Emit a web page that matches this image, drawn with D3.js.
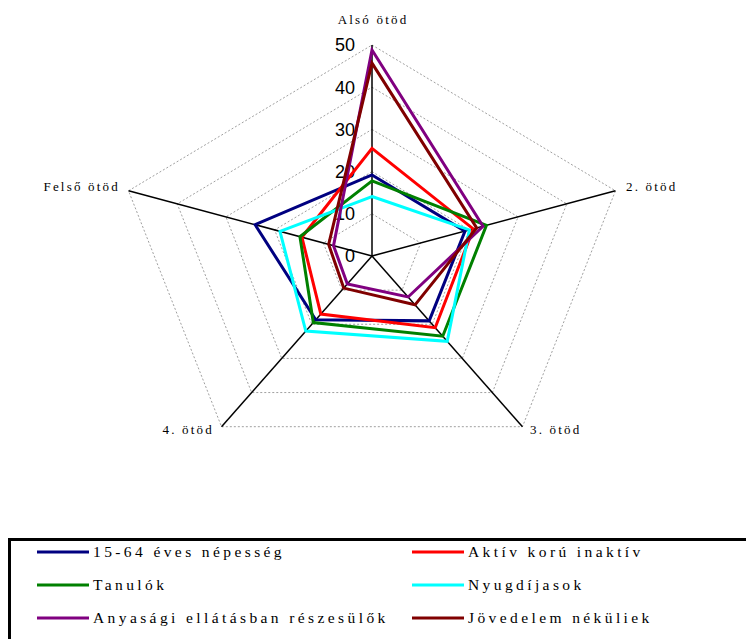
<!DOCTYPE html>
<html>
<head>
<meta charset="utf-8">
<script src="https://cdn.jsdelivr.net/npm/d3@7"></script>
<style>
  body { margin: 0; background: #fff; }
  svg { display: block; }
  .serif { font-family: 'Liberation Serif', 'DejaVu Serif', serif; }
</style>
</head>
<body>
<svg id="radar" width="746" height="639"></svg>
<script>
// axes of the radar (income quintiles)
var axisNames = ['Alsó ötöd', '2. ötöd', '3. ötöd', '4. ötöd', 'Felső ötöd'];
var tickValues = [0, 10, 20, 30, 40, 50];

// series, values per quintile in %
var seriesNames = ['15-64 éves népesség', 'Aktív korú inaktív', 'Tanulók',
                   'Nyugdíjasok', 'Anyasági ellátásban részesülők', 'Jövedelem néküliek'];
var seriesColors = ['#000080', '#ff0000', '#008000', '#00ffff', '#800080', '#800000'];
var nepesseg   = [19.2, 19.1, 19.0, 18.7, 24.0];
var inaktiv    = [25.5, 20.8, 21.0, 17.0, 14.4];
var tanulok    = [17.8, 23.5, 23.5, 19.5, 14.8];
var nyugdijas  = [14.1, 20.0, 25.0, 22.0, 18.9];
var anyasagi   = [48.8, 22.8, 12.0, 8.2, 7.9];
var jovedelem  = [45.7, 21.5, 14.3, 9.4, 8.9];
var seriesValues = [nepesseg, inaktiv, tanulok, nyugdijas, anyasagi, jovedelem];

var svg = d3.select('#radar');
var cx = 372, cy = 256;

// the plot is a bit wider than tall, like the original
var rX = d3.scaleLinear().domain([0, 50]).range([0, 256]);
var rY = d3.scaleLinear().domain([0, 50]).range([0, 211]);
var angle = d3.scaleLinear().domain([0, axisNames.length]).range([0, 2 * Math.PI]);

function px(i, v) { return cx + Math.sin(angle(i)) * rX(v); }
function py(i, v) { return cy - Math.cos(angle(i)) * rY(v); }

var line = d3.line()
  .x(d => px(d.i, d.v))
  .y(d => py(d.i, d.v))
  .curve(d3.curveLinearClosed);

// dotted grid
svg.append('g').selectAll('path')
  .data(tickValues.slice(1))
  .enter().append('path')
  .attr('d', t => line(axisNames.map((n, i) => ({i: i, v: t}))))
  .attr('fill', 'none')
  .attr('stroke', '#a0a0a0')
  .attr('stroke-width', 1)
  .attr('stroke-dasharray', '2,2');

// spokes
svg.append('g').selectAll('line')
  .data(axisNames)
  .enter().append('line')
  .attr('x1', cx).attr('y1', cy)
  .attr('x2', (d, i) => px(i, 50))
  .attr('y2', (d, i) => py(i, 50))
  .attr('stroke', '#000')
  .attr('stroke-width', 1.5);

// value labels along the top spoke
svg.append('g').selectAll('text')
  .data(tickValues)
  .enter().append('text')
  .attr('x', cx - 17)
  .attr('y', t => py(0, t))
  .attr('dy', '0.36em')
  .attr('text-anchor', 'end')
  .style('font-family', "'Liberation Sans', Arial, sans-serif")
  .style('font-size', '18px')
  .text(t => t);

// category labels
var labelPos = [
  {x: cx + 1, y: 24, anchor: 'middle'},
  {x: 626, y: 191, anchor: 'start'},
  {x: 530, y: 434, anchor: 'start'},
  {x: 214, y: 434, anchor: 'end'},
  {x: 120, y: 191, anchor: 'end'}
];
svg.append('g').selectAll('text')
  .data(axisNames)
  .enter().append('text')
  .attr('class', 'serif')
  .attr('x', (d, i) => labelPos[i].x)
  .attr('y', (d, i) => labelPos[i].y)
  .attr('text-anchor', (d, i) => labelPos[i].anchor)
  .style('font-size', '13px')
  .style('letter-spacing', '2.2px')
  .text(d => d);

// series polygons
svg.append('g').selectAll('path')
  .data(seriesValues)
  .enter().append('path')
  .attr('d', vals => line(vals.map((v, i) => ({i: i, v: v}))))
  .attr('fill', 'none')
  .attr('stroke', (d, k) => seriesColors[k])
  .attr('stroke-width', 3)
  .attr('stroke-linejoin', 'miter');

// legend
svg.append('rect')
  .attr('x', 9.5).attr('y', 539.5)
  .attr('width', 760).attr('height', 120)
  .attr('fill', 'none')
  .attr('stroke', '#000')
  .attr('stroke-width', 3);

var leg = svg.append('g').selectAll('g')
  .data(seriesNames)
  .enter().append('g')
  .attr('transform', (d, k) => 'translate(' + (k % 2 ? 412 : 37) + ',' + (552 + Math.floor(k / 2) * 33) + ')');

leg.append('line')
  .attr('x1', 0).attr('x2', 52)
  .attr('stroke', (d, k) => seriesColors[k])
  .attr('stroke-width', 3);

leg.append('text')
  .attr('class', 'serif')
  .attr('x', 56)
  .attr('dy', '0.35em')
  .style('font-size', '15.5px')
  .style('letter-spacing', '3.4px')
  .text(d => d);
</script>
</body>
</html>
